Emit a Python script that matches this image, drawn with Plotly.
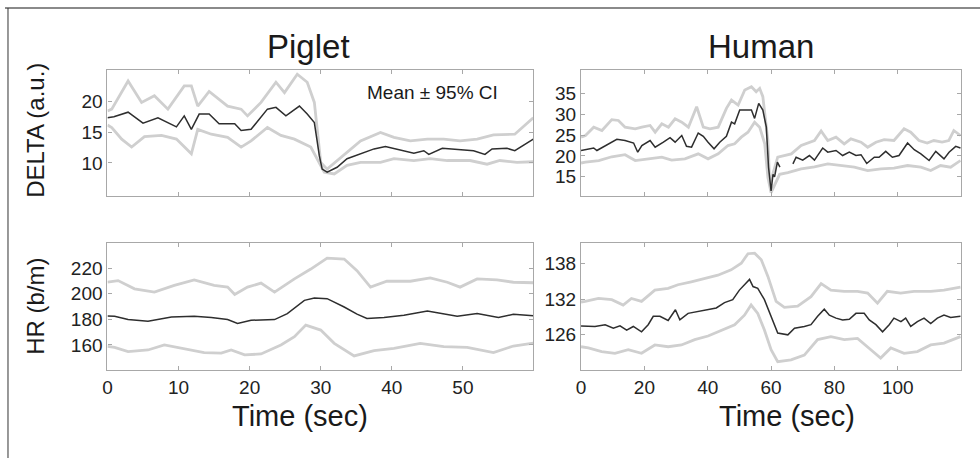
import plotly.graph_objects as go

# ---------------- data ----------------
# Piglet DELTA (a.u.)
pig_delta_t = [0.0, 0.9, 2.9, 5.0, 7.1, 9.7, 10.8, 11.8, 12.9, 14.3, 15.7, 17.9, 18.8, 20.2, 22.5, 23.7, 25.1, 27.0, 28.1, 29.1, 29.8, 30.2, 30.9, 32.3, 33.7, 35.6, 37.5, 39.1, 40.7, 43.1, 44.5, 45.2, 47.1, 49.2, 51.5, 53.1, 54.1, 56.2, 57.3, 59.9]
pig_delta_mean = [17.4, 17.55, 18.3, 16.5, 17.4, 15.9, 17.7, 15.5, 18.0, 18.0, 16.4, 16.4, 15.3, 15.5, 18.8, 19.1, 17.7, 19.3, 18.0, 16.6, 11.2, 9.0, 8.5, 9.3, 10.7, 11.5, 12.3, 12.7, 12.3, 11.6, 12.0, 11.4, 12.4, 12.2, 12.0, 11.4, 12.3, 12.4, 12.0, 13.9]
pig_delta_up_t = [0.0, 0.6, 2.9, 4.8, 6.6, 8.5, 10.8, 11.8, 12.7, 14.3, 16.9, 18.8, 19.7, 21.6, 23.7, 24.9, 26.7, 28.1, 29.1, 30.0, 30.9, 32.8, 35.6, 38.4, 40.3, 42.6, 45.0, 47.3, 49.6, 52.0, 54.3, 57.3, 59.9]
pig_delta_up = [18.5, 18.8, 23.4, 19.9, 21.0, 18.8, 22.6, 22.6, 19.3, 21.7, 19.3, 18.8, 17.7, 19.9, 23.2, 21.5, 24.5, 23.2, 19.9, 10.1, 9.0, 10.9, 13.6, 15.0, 14.2, 13.6, 13.9, 13.9, 13.6, 13.9, 14.6, 14.7, 17.4]
pig_delta_lo_t = [0.0, 0.6, 2.0, 3.4, 5.2, 7.6, 9.7, 11.8, 12.7, 14.6, 16.9, 18.8, 20.2, 22.5, 24.4, 26.3, 28.6, 29.5, 30.5, 31.9, 33.7, 35.6, 38.4, 40.3, 43.1, 45.4, 47.8, 51.0, 53.4, 55.2, 57.6, 59.9]
pig_delta_lo = [16.2, 15.8, 13.9, 12.6, 14.3, 14.5, 13.9, 11.5, 15.5, 14.7, 14.2, 12.6, 13.6, 15.8, 14.5, 13.9, 12.6, 10.7, 8.5, 8.2, 9.6, 10.1, 10.1, 10.7, 10.4, 10.7, 10.4, 10.4, 9.8, 10.4, 10.1, 10.2]

# Piglet HR (b/m)
pig_hr_t = [0.0, 1.0, 2.9, 5.7, 9.0, 12.2, 14.6, 16.9, 18.3, 20.2, 23.5, 25.3, 27.7, 29.1, 30.9, 33.3, 35.1, 36.5, 38.9, 41.7, 45.0, 46.8, 49.2, 52.0, 55.0, 57.1, 58.5, 59.9]
pig_hr_mean = [182.6, 182.4, 179.8, 178.5, 181.9, 182.4, 181.4, 179.8, 176.7, 179.3, 179.8, 184.5, 194.8, 196.6, 196.1, 189.6, 184.0, 180.6, 181.4, 183.2, 186.5, 184.5, 182.4, 184.5, 181.4, 184.0, 183.2, 182.8]
pig_hr_up_t = [0.0, 1.5, 3.8, 6.6, 9.4, 12.2, 15.0, 16.9, 17.9, 19.7, 21.6, 23.5, 26.3, 28.6, 30.9, 33.3, 35.1, 37.0, 39.3, 42.6, 45.4, 47.8, 49.6, 52.0, 54.8, 57.1, 59.9]
pig_hr_up = [209.0, 210.2, 203.8, 201.2, 206.4, 210.7, 206.4, 205.1, 199.4, 205.1, 208.2, 201.2, 211.5, 219.2, 227.7, 227.0, 217.9, 205.1, 209.7, 209.7, 212.3, 208.9, 205.1, 211.5, 210.7, 208.9, 208.5]
pig_hr_lo_t = [0.0, 1.0, 2.9, 5.7, 8.0, 10.4, 13.6, 16.0, 17.4, 19.3, 21.6, 24.4, 26.3, 27.9, 30.0, 31.9, 34.7, 37.5, 40.3, 44.0, 47.3, 50.6, 54.3, 57.1, 59.9]
pig_hr_lo = [159.0, 158.2, 154.9, 156.1, 160.0, 157.4, 154.1, 153.6, 156.1, 152.3, 153.0, 160.0, 166.4, 175.5, 171.6, 161.3, 151.5, 155.6, 157.4, 161.3, 158.7, 158.2, 154.1, 159.2, 161.5]

# Human DELTA (a.u.)
hum_delta_t = [0.0, 1.4, 4.0, 5.0, 7.7, 11.3, 13.9, 16.6, 17.9, 19.2, 21.8, 23.4, 26.0, 28.1, 29.7, 31.8, 33.3, 34.9, 37.0, 38.6, 40.1, 42.0, 43.8, 45.9, 47.5, 48.5, 50.1, 52.2, 53.8, 54.8, 56.1, 57.4, 58.5, 59.2, 60.0, 60.6, 61.1, 62.0, 62.8, 64.5,
               66.9, 67.9, 70.0, 72.1, 73.7, 76.3, 77.9, 80.5, 82.6, 84.7, 86.8, 88.4, 90.2, 92.6, 94.1, 96.2, 98.3, 100.4, 103.1, 105.2, 107.3, 109.9, 112.0, 114.6, 116.2, 118.3, 119.8]
hum_delta_mean = [21.3, 21.5, 21.9, 21.3, 22.5, 24.0, 23.7, 23.1, 20.9, 22.5, 23.7, 22.1, 23.3, 24.4, 23.3, 24.9, 22.3, 22.1, 25.5, 24.7, 23.3, 21.7, 23.3, 24.7, 28.1, 27.7, 31.0, 31.0, 31.0, 29.0, 32.6, 31.0, 26.9, 17.3, 11.6, 15.6, 15.0, 18.5, 17.3, None,
                  18.1, 19.7, 19.0, 20.1, 19.0, 21.9, 20.9, 21.3, 20.1, 20.9, 20.1, 20.3, 18.2, 19.7, 19.7, 21.1, 19.7, 20.1, 23.1, 21.5, 20.5, 18.9, 21.1, 19.3, 20.9, 22.3, 21.9]
hum_delta_up_t = [0.0, 1.4, 4.0, 6.6, 9.7, 11.8, 13.9, 17.1, 19.2, 21.8, 23.4, 25.5, 27.6, 29.7, 31.8, 33.9, 36.5, 38.6, 40.7, 43.3, 45.9, 47.5, 49.6, 51.7, 53.8, 55.3, 56.4, 57.4, 59.0, 59.6, 62.1, 66.4, 69.5, 73.7, 75.8, 77.9, 80.5, 83.1, 85.2, 88.4, 90.5, 93.1, 95.7, 98.8, 102.0, 104.1, 106.7, 109.3, 111.4, 114.0, 116.1, 117.7, 119.8]
hum_delta_up = [24.5, 24.9, 26.9, 26.1, 28.7, 28.5, 26.9, 26.5, 26.9, 27.3, 25.7, 27.7, 26.9, 28.9, 28.1, 26.9, 31.8, 26.9, 26.5, 26.9, 31.4, 33.4, 32.2, 35.8, 36.6, 35.4, 36.2, 34.2, 23.7, 13.2, 19.7, 20.5, 22.5, 23.7, 26.0, 23.7, 24.5, 22.9, 24.1, 23.3, 22.1, 23.3, 23.9, 23.7, 26.5, 25.7, 23.7, 23.1, 23.7, 23.3, 23.7, 26.1, 24.9]
hum_delta_lo_t = [0.0, 1.4, 5.6, 9.7, 13.9, 17.1, 21.3, 25.5, 28.6, 32.8, 37.0, 40.1, 43.3, 46.4, 48.5, 50.6, 52.7, 54.8, 56.4, 58.0, 59.0, 60.0, 62.7, 65.3, 69.5, 73.7, 77.9, 82.1, 86.3, 90.5, 94.7, 98.8, 103.1, 107.3, 110.4, 113.5, 116.7, 119.8]
hum_delta_lo = [18.3, 18.5, 18.9, 19.8, 20.3, 18.9, 19.3, 19.7, 19.0, 19.3, 20.5, 19.3, 20.5, 22.5, 22.9, 24.5, 25.7, 28.1, 26.9, 22.9, 14.8, 11.2, 15.6, 16.0, 16.9, 17.4, 18.1, 17.7, 17.3, 16.5, 16.9, 17.1, 17.7, 17.3, 16.5, 17.7, 17.3, 18.9]

# Human HR (b/m)
hum_hr_t = [0.0, 1.3, 4.4, 7.6, 10.2, 12.3, 14.4, 16.5, 19.1, 21.2, 22.8, 24.9, 27.5, 29.8, 31.2, 33.8, 36.9, 40.1, 42.7, 45.3, 47.9, 50.0, 51.6, 53.2, 54.3, 55.8, 57.9, 60.0, 62.1, 65.3, 67.4, 70.5, 72.6, 74.7, 76.8, 78.4, 80.5, 82.6, 84.7, 86.8, 89.4, 91.0, 93.1, 95.2, 97.3, 98.8, 101.0, 102.5, 104.1, 106.2, 108.3, 110.4, 112.5, 114.6, 116.7, 119.8]
hum_hr_mean = [127.5, 127.5, 127.4, 127.7, 127.1, 127.5, 126.8, 127.4, 126.5, 127.7, 129.1, 129.1, 128.4, 130.2, 128.5, 129.6, 129.9, 130.2, 130.5, 131.4, 131.9, 133.5, 134.4, 135.3, 134.1, 133.8, 131.9, 129.1, 126.3, 126.0, 127.1, 127.4, 127.7, 129.1, 130.3, 129.3, 128.8, 128.5, 128.6, 129.6, 129.6, 128.5, 127.7, 126.5, 127.7, 128.8, 128.2, 128.8, 127.4, 128.2, 128.8, 127.9, 128.8, 129.3, 128.9, 129.1]
hum_hr_up_t = [0.0, 1.3, 5.5, 9.7, 13.3, 15.9, 19.1, 23.3, 27.5, 30.6, 34.8, 39.0, 43.2, 47.4, 50.6, 52.7, 54.8, 56.9, 59.0, 61.6, 64.2, 68.4, 72.6, 75.8, 78.9, 83.1, 87.3, 90.5, 93.6, 96.7, 100.9, 105.1, 110.4, 114.6, 119.8]
hum_hr_up = [131.5, 131.6, 132.1, 131.9, 131.0, 132.1, 131.6, 133.5, 133.8, 134.4, 134.9, 135.5, 136.0, 136.9, 138.0, 139.6, 139.7, 138.6, 135.8, 131.6, 130.6, 130.8, 132.4, 134.6, 133.5, 133.3, 133.3, 133.0, 131.3, 133.3, 133.0, 133.3, 133.3, 133.5, 134.0]
hum_hr_lo_t = [0.0, 2.3, 6.5, 10.7, 14.9, 19.1, 23.3, 27.5, 31.7, 35.9, 40.1, 44.3, 48.5, 51.6, 53.7, 55.8, 57.9, 60.0, 62.1, 66.3, 70.5, 74.7, 78.9, 83.1, 87.3, 91.5, 94.6, 97.8, 102.0, 106.2, 110.4, 114.6, 119.8]
hum_hr_lo = [124.0, 123.8, 123.2, 122.9, 123.5, 122.9, 124.3, 124.0, 124.3, 125.2, 125.8, 126.8, 127.7, 129.3, 131.0, 129.6, 126.8, 123.5, 121.5, 121.8, 122.6, 125.2, 125.7, 125.2, 125.4, 123.5, 122.1, 123.8, 122.9, 123.2, 124.3, 124.6, 125.7]

pig_xticks = [0, 10, 20, 30, 40, 50]
hum_xticks = [0, 20, 40, 60, 80, 100]
pig_delta_yticks = [10, 15, 20]
hum_delta_yticks = [15, 20, 25, 30, 35]
pig_hr_yticks = [160, 180, 200, 220]
hum_hr_yticks = [126, 132, 138]

# ---------------- figure ----------------
W, H = 980, 458
FONT = "Liberation Sans Narrow, Arial Narrow, Liberation Sans, Arial, sans-serif"
MEAN_C = "#2e2e2e"
CI_C = "#cfcfcf"
AX_C = "#a8a8a8"

fig = go.Figure()

panels = [
    ("x", "y", pig_delta_t, pig_delta_mean, pig_delta_up_t, pig_delta_up, pig_delta_lo_t, pig_delta_lo),
    ("x2", "y2", hum_delta_t, hum_delta_mean, hum_delta_up_t, hum_delta_up, hum_delta_lo_t, hum_delta_lo),
    ("x3", "y3", pig_hr_t, pig_hr_mean, pig_hr_up_t, pig_hr_up, pig_hr_lo_t, pig_hr_lo),
    ("x4", "y4", hum_hr_t, hum_hr_mean, hum_hr_up_t, hum_hr_up, hum_hr_lo_t, hum_hr_lo),
]
for xa, ya, t, m, ut, u, lt, lo in panels:
    fig.add_trace(go.Scatter(x=ut, y=u, mode="lines", xaxis=xa, yaxis=ya,
                             line=dict(color=CI_C, width=2.8), showlegend=False, hoverinfo="skip"))
    fig.add_trace(go.Scatter(x=lt, y=lo, mode="lines", xaxis=xa, yaxis=ya,
                             line=dict(color=CI_C, width=2.8), showlegend=False, hoverinfo="skip"))
    fig.add_trace(go.Scatter(x=t, y=m, mode="lines", xaxis=xa, yaxis=ya,
                             line=dict(color=MEAN_C, width=1.5), showlegend=False,
                             connectgaps=False))

def px_x(p):
    return p / W

def px_y(p):
    return 1 - p / H

dom_pig = [px_x(103), px_x(531)]
dom_hum = [px_x(579), px_x(961)]
dom_top = [px_y(196), px_y(70)]
dom_bot = [px_y(370), px_y(243)]

common = dict(showline=True, linecolor=AX_C, linewidth=1.2, mirror="ticks",
              ticks="inside", ticklen=4, tickcolor=AX_C, showgrid=False, zeroline=False,
              tickfont=dict(family=FONT, size=19, color="#222"))

fig.update_layout(
    width=W, height=H, margin=dict(l=0, r=0, t=0, b=0),
    paper_bgcolor="white", plot_bgcolor="white",
    font=dict(family=FONT, color="#222"),
    xaxis=dict(domain=dom_pig, anchor="y", range=[0, 59.9], tickvals=pig_xticks, showticklabels=False, **common),
    yaxis=dict(domain=dom_top, anchor="x", range=[4.6, 25.2], tickvals=pig_delta_yticks, **common),
    xaxis2=dict(domain=dom_hum, anchor="y2", range=[0, 120], tickvals=hum_xticks, showticklabels=False, **common),
    yaxis2=dict(domain=dom_top, anchor="x2", range=[10.4, 40.6], tickvals=hum_delta_yticks, **common),
    xaxis3=dict(domain=dom_pig, anchor="y3", range=[0, 59.9], tickvals=pig_xticks, **common),
    yaxis3=dict(domain=dom_bot, anchor="x3", range=[140.5, 239.5], tickvals=pig_hr_yticks, **common),
    xaxis4=dict(domain=dom_hum, anchor="y4", range=[0, 120], tickvals=hum_xticks, **common),
    yaxis4=dict(domain=dom_bot, anchor="x4", range=[120.1, 141.4], tickvals=hum_hr_yticks, **common),
)

anns = [
    dict(text="Piglet", x=305, y=47, size=33, angle=0, font=FONT),
    dict(text="Human", x=760, y=47, size=33, angle=0, font=FONT),
    dict(text="DELTA (a.u.)", x=30, y=130, size=24, angle=-90, font=FONT),
    dict(text="HR (b/m)", x=30, y=306, size=24, angle=-90, font=FONT),
    dict(text="Time (sec)", x=297, y=416, size=29, angle=0, font=FONT),
    dict(text="Time (sec)", x=786, y=416, size=29, angle=0, font=FONT),
    dict(text="Mean ± 95% CI", x=430, y=93, size=19, angle=0, font="Liberation Sans, Arial, sans-serif"),
]
for a in anns:
    fig.add_annotation(text=a["text"], x=px_x(a["x"]), y=px_y(a["y"]), xref="paper", yref="paper",
                       showarrow=False, textangle=a["angle"], xanchor="center", yanchor="middle",
                       font=dict(family=a["font"], size=a["size"], color="#1a1a1a"))

# outer frame (top and left edges as in the figure)
fig.add_shape(type="line", xref="paper", yref="paper", x0=0, x1=1, y0=px_y(8), y1=px_y(8),
              line=dict(color="#8a8a8a", width=2))
fig.add_shape(type="line", xref="paper", yref="paper", x0=px_x(3), x1=px_x(3), y0=0, y1=px_y(8),
              line=dict(color="#333", width=1))

fig.write_html("out.html", config={"displayModeBar": False},
               post_script="document.body.style.margin='0px';")
